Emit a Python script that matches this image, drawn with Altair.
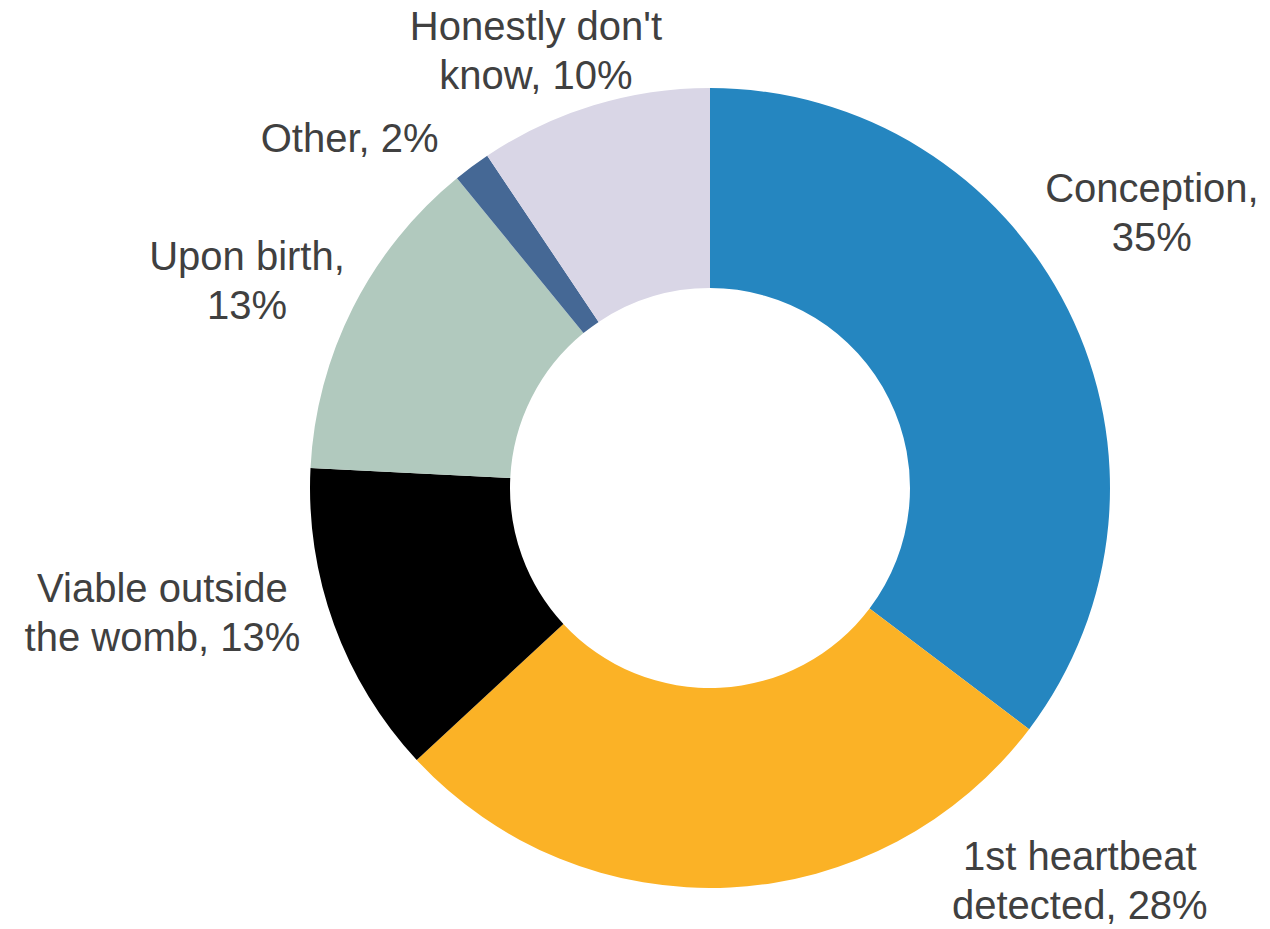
import altair as alt
import pandas as pd
import math

categories = ["Conception", "1st heartbeat detected", "Viable outside the womb",
              "Upon birth", "Other", "Honestly don't know"]
values = [35.3, 27.8, 12.7, 13.3, 1.5, 9.4]
labels = ["Conception,\n35%", "1st heartbeat\ndetected, 28%", "Viable outside\nthe womb, 13%",
          "Upon birth,\n13%", "Other, 2%", "Honestly don't\nknow, 10%"]
colors = ["#2586C0", "#FBB226", "#000000", "#B1C9BE", "#456895", "#D9D6E6"]

# label placement of first line (angle clockwise from top in degrees, distance from centre in px)
label_angle = [56.0, 135.0, 259.46, 296.42, 314.0, 339.28]
label_dist = [533, 523, 557, 517, 501, 492]

df = pd.DataFrame({"category": categories, "value": values, "order": range(len(categories))})
lab = pd.DataFrame({
    "label": labels,
    "theta": [math.radians(a) for a in label_angle],
    "r": label_dist,
})

cx, cy = 710, 488

arcs = alt.Chart(df).mark_arc(innerRadius=200, outerRadius=400, stroke=None).encode(
    theta=alt.Theta("value:Q", stack=True),
    order=alt.Order("order:Q"),
    color=alt.Color("category:N", scale=alt.Scale(domain=categories, range=colors), legend=None),
    x=alt.value(cx), y=alt.value(cy),
)

text = alt.Chart(lab).mark_text(
    font="Arial", fontSize=40, color="#404040", lineBreak="\n",
    lineHeight=49, align="center", baseline="middle",
).encode(
    theta=alt.Theta("theta:Q", scale=None),
    radius=alt.Radius("r:Q", scale=None),
    text="label:N",
    x=alt.value(cx), y=alt.value(cy),
)

chart = alt.layer(arcs, text).properties(
    width=1270, height=929, padding=0,
    autosize=alt.AutoSizeParams(type="none"),
).configure_view(stroke=None)

chart.save("out.html", embed_options={"renderer": "svg", "actions": False})
